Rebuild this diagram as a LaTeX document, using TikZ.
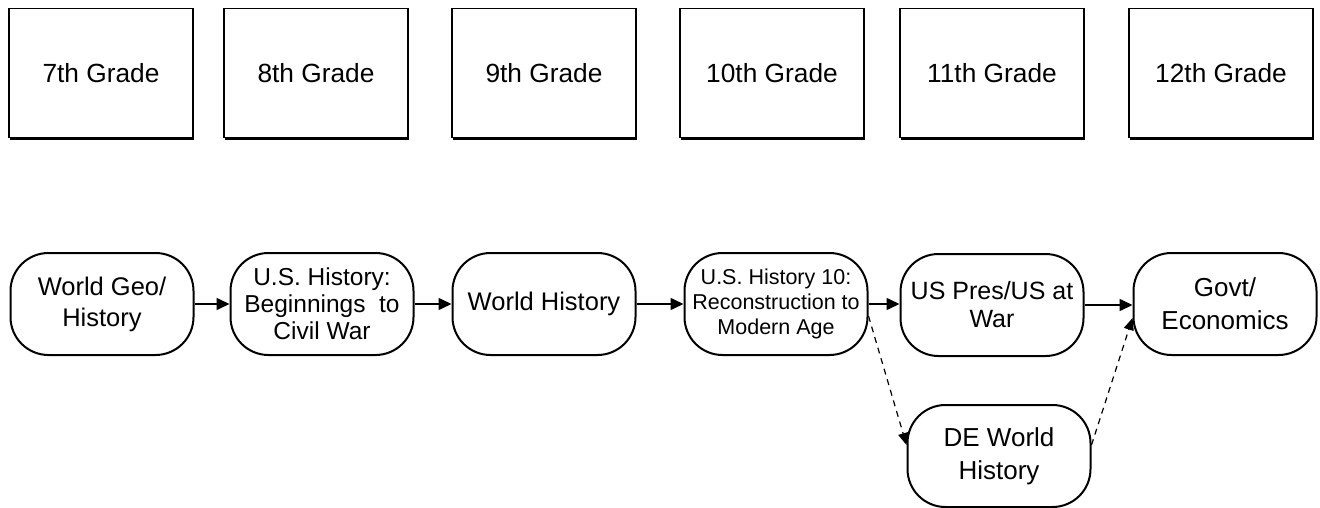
\documentclass[tikz,border=0pt]{standalone}
\usepackage{fontspec}
\setmainfont{Liberation Sans}
\usetikzlibrary{shadows,arrows.meta}
\begin{document}
\begin{tikzpicture}[x=1pt,y=-1pt,
  grade/.style={draw, line width=1.3pt, minimum width=184pt, minimum height=129pt, inner sep=0pt, fill=white,
    font=\fontsize{26.3}{30}\selectfont,
    drop shadow={shadow xshift=1.4pt, shadow yshift=-2.8pt, fill=black, opacity=1}},
  course/.style={draw, line width=2pt, rounded corners=38pt, minimum width=183pt, minimum height=102pt,
    inner sep=0pt, align=center, font=\fontsize{25.5}{31}\selectfont},
  flow/.style={line width=1.6pt, -{Triangle[length=13pt,width=12pt]}},
  alt/.style={line width=1.2pt, dash pattern=on 6pt off 5pt, -{Triangle[length=12pt,width=10pt]}}
]
\useasboundingbox (0,0) rectangle (1320,508);
% grade headers
\node[grade] (g7)  at (101,73)    {7th Grade};
\node[grade] (g8)  at (316,73)    {8th Grade};
\node[grade] (g9)  at (544,73)    {9th Grade};
\node[grade] (g10) at (772,73)    {10th Grade};
\node[grade] (g11) at (992,73)    {11th Grade};
\node[grade] (g12) at (1221,73)   {12th Grade};
% courses
\node[course] (wgeo)   at (102,304)  {World Geo/\\History};
\node[course, font=\fontsize{24.5}{27}\selectfont] (ush) at (322,304) {U.S. History:\\Beginnings\ \ to\\Civil War};
\node[course] (wh)     at (544,304)  {World History};
\node[course, font=\fontsize{21.5}{25}\selectfont] (ush10) at (776,304) {U.S. History 10:\\Reconstruction to\\Modern Age};
\node[course, font=\fontsize{25}{28}\selectfont] (uspres) at (992,305) {US Pres/US at\\War};
\node[course, font=\fontsize{26}{33}\selectfont] (govt) at (1225,304) {Govt/\\Economics};
\node[course, font=\fontsize{26}{33}\selectfont] (de) at (999,456) {DE World\\History};
% connectors
\draw[flow] (wgeo) -- (ush);
\draw[flow] (ush) -- (wh);
\draw[flow] (wh) -- (ush10);
\draw[flow] (ush10) -- (uspres.west |- ush10);
\draw[flow] (uspres) -- (govt.west |- uspres);
\draw[alt] ([yshift=-12pt]ush10.east) -- ([yshift=11pt]de.west);
\draw[alt] ([yshift=11pt]de.east) -- ([yshift=-14pt]govt.west);
\end{tikzpicture}
\end{document}
